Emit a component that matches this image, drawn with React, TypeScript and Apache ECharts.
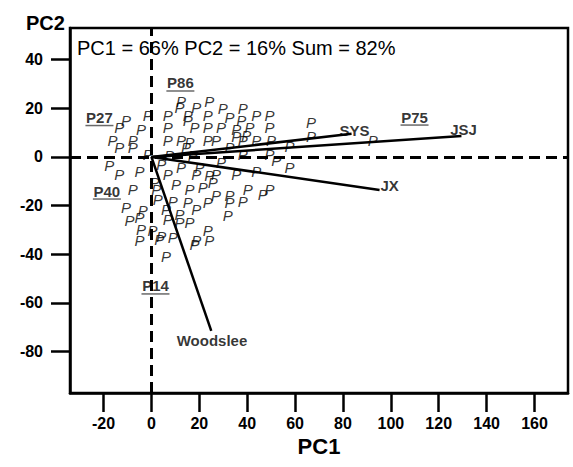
import React, { useEffect, useRef } from "react";
import * as echarts from "echarts";

// PCA scores (each italic "P" in the plot)
const scoreX = [
  12.4, 24.2, 11.7, 18.7, 29.8, 38.2, -1.5, 6.8, 15.2, 23.5, 32.6, 43.8, 49.3, 37.5, -10.6, 15.2,
  -13.4, -4.3, 6.8, 18.0, 23.5, 29.1, 35.4, 41.0, 49.3, 66.7, 66.7, 35.4, 39.6, -16.2, -7.8, 6.8,
  12.4, 15.9, 23.5, 27.0, 38.2, 43.8, 50.0, 57.7, -13.4, -7.8, 14.5, 32.6, -1.5, 7.5, 17.3, 38.2,
  49.3, -17.6, -5.0, 4.1, 12.4, 20.1, 29.1, 52.1, 57.7, -13.4, 6.8, 18.7, 24.2, 27.0, 35.4, 43.8,
  1.3, 10.3, 15.9, 21.4, 25.6, 40.2, 49.3, -7.8, 2.0, 46.5, 2.6, 8.9, 15.2, 23.5, 27.0, 32.6,
  32.6, 38.2, -10.6, -3.6, 6.1, 11.7, 18.7, 31.9, -9.2, -5.0, 6.8, 11.7, 15.9, -4.3, 0.5, 4.1,
  8.9, 23.5, -5.0, 3.3, 18.7, 24.2, 6.1, 18.0, 92.4,
];
const scoreY = [
  23.0, 23.0, 20.3, 20.3, 19.9, 19.9, 16.9, 16.9, 16.9, 16.9, 16.2, 16.9, 17.1, 14.8, 14.8, 14.8,
  12.0, 11.4, 12.0, 12.0, 12.0, 12.0, 11.4, 12.0, 12.0, 14.1, 8.6, 8.6, 8.9, 6.6, 6.6, 6.6,
  6.6, 5.9, 6.6, 6.6, 6.6, 6.6, 6.6, 4.5, 3.8, 3.8, 3.8, 3.8, 1.1, 0.4, 0.4, 1.1,
  1.1, -3.7, -5.8, -3.0, -4.4, -4.4, -2.3, -1.6, -4.4, -7.1, -7.1, -7.1, -7.5, -7.1, -7.1, -5.8,
  -10.6, -11.2, -13.3, -12.6, -10.6, -13.3, -13.3, -13.3, -13.3, -15.3, -17.4, -18.1, -18.8, -18.8, -16.0, -16.0,
  -18.8, -18.1, -20.8, -22.2, -21.5, -23.6, -21.5, -24.2, -26.3, -24.9, -25.6, -27.0, -27.0, -29.7, -30.4, -32.5,
  -33.2, -30.4, -34.5, -33.8, -34.5, -34.5, -40.7, -35.8, 6.6,
];

// loading vectors (from the origin)
const vectorNames = ["SYS", "JSJ", "JX", "Woodslee"];
const vectorX = [83.6, 129.5, 95.3, 25.0];
const vectorY = [9.5, 8.6, -13.6, -71.5];
const vectorLabelX = [84.8, 130.4, 99.5, 25.3];
const vectorLabelY = [10.9, 11.4, -11.6, -75.6];

// named (underlined) samples
const sampleNames = ["P86", "P27", "P75", "P40", "P14"];
const sampleX = [12.1, -21.7, 109.9, -18.6, 1.7];
const sampleY = [30.4, 16.2, 16.4, -14.0, -53.0];

const xTicks = [-20, 0, 20, 40, 60, 80, 100, 120, 140, 160];
const yTicks = [-80, -60, -40, -20, 0, 20, 40];
const statsText = "PC1 = 66% PC2 = 16% Sum = 82%";

const FONT = "'Liberation Sans', Arial, sans-serif";
const CLEAR = "rgba(0,0,0,0)";

export default function App() {
  const ref = useRef<HTMLDivElement>(null);
  useEffect(() => {
    if (!ref.current) return;
    const chart = echarts.init(ref.current, null, { renderer: "svg" });
    const vectorSeries = vectorNames.map((n, i) => ({
      type: "line",
      name: n,
      data: [
        [0, 0],
        [vectorX[i], vectorY[i]],
      ],
      showSymbol: false,
      symbol: "none",
      lineStyle: { color: "#000", width: 2.5 },
      z: 4,
      silent: true,
    }));
    const textLabel = (size: number, extra: any) => ({
      show: true,
      position: "inside",
      fontSize: size,
      color: "#000",
      fontFamily: FONT,
      ...extra,
    });
    chart.setOption({
      animation: false,
      textStyle: { fontFamily: FONT },
      title: [
        {
          text: statsText,
          left: 72,
          top: 33,
          textStyle: { fontSize: 20, fontWeight: "normal", color: "#000", fontFamily: FONT },
          z: 10,
        },
        {
          text: "PC2",
          left: 21,
          top: 8,
          textStyle: { fontSize: 20, fontWeight: "bold", color: "#000", fontFamily: FONT },
        },
      ],
      grid: {
        left: 70,
        right: 5,
        top: 28,
        bottom: 74,
        show: true,
        borderColor: "#000",
        borderWidth: 2.5,
        backgroundColor: "transparent",
      },
      xAxis: {
        type: "value",
        min: -34,
        max: 174,
        name: "PC1",
        nameLocation: "middle",
        nameGap: 31,
        nameTextStyle: { fontSize: 22, fontWeight: "bold", color: "#000", fontFamily: FONT },
        axisLine: { show: true, onZero: false, lineStyle: { color: "#000", width: 2.5 } },
        axisTick: { show: true, inside: false, length: 19, customValues: xTicks, lineStyle: { color: "#000", width: 2.5 } },
        axisLabel: { customValues: xTicks, fontSize: 16, fontWeight: "bold", color: "#000", margin: 22, fontFamily: FONT },
        splitLine: { show: false },
      },
      yAxis: {
        type: "value",
        min: -97,
        max: 53,
        axisLine: { show: true, onZero: false, lineStyle: { color: "#000", width: 2.5 } },
        axisTick: { show: true, inside: false, length: 19, customValues: yTicks, lineStyle: { color: "#000", width: 2.5 } },
        axisLabel: { customValues: yTicks, fontSize: 16, fontWeight: "bold", color: "#000", margin: 27, fontFamily: FONT },
        splitLine: { show: false },
      },
      series: [
        {
          type: "scatter",
          name: "ref",
          data: [],
          markLine: {
            silent: true,
            symbol: "none",
            label: { show: false },
            lineStyle: { color: "#000", width: 3, type: [11, 6] },
            data: [{ xAxis: 0 }, { yAxis: 0 }],
          },
          z: 2,
        },
        {
          type: "scatter",
          name: "scores",
          data: scoreX.map((x, i) => [x, scoreY[i]]),
          symbolSize: 2,
          itemStyle: { color: CLEAR },
          label: textLabel(15, { formatter: "P", fontStyle: "italic", fontWeight: "normal" }),
          labelLayout: { hideOverlap: false },
          z: 3,
          silent: true,
        },
        ...vectorSeries,
        {
          type: "scatter",
          name: "vectorLabels",
          data: vectorNames.map((n, i) => ({ name: n, value: [vectorLabelX[i], vectorLabelY[i]] })),
          symbolSize: 2,
          itemStyle: { color: CLEAR },
          label: textLabel(15, { formatter: "{b}", fontWeight: "bold" }),
          z: 6,
          silent: true,
        },
        {
          type: "scatter",
          name: "sampleLabels",
          data: sampleNames.map((n, i) => ({ name: n, value: [sampleX[i], sampleY[i]] })),
          symbolSize: 2,
          itemStyle: { color: CLEAR },
          label: textLabel(15, { formatter: "{b}", fontWeight: "bold" }),
          z: 6,
          silent: true,
        },
        {
          type: "scatter",
          name: "sampleUnderlines",
          data: sampleNames.map((n, i) => ({ name: n, value: [sampleX[i], sampleY[i]] })),
          symbol: "rect",
          symbolSize: [28, 1.5],
          symbolOffset: [0, 8],
          itemStyle: { color: "#444" },
          z: 6,
          silent: true,
        },
      ],
    });
    return () => chart.dispose();
  }, []);
  return (
    <div
      ref={ref}
      style={{ position: "fixed", left: 0, top: 0, width: 573, height: 467, background: "#fff" }}
    />
  );
}
